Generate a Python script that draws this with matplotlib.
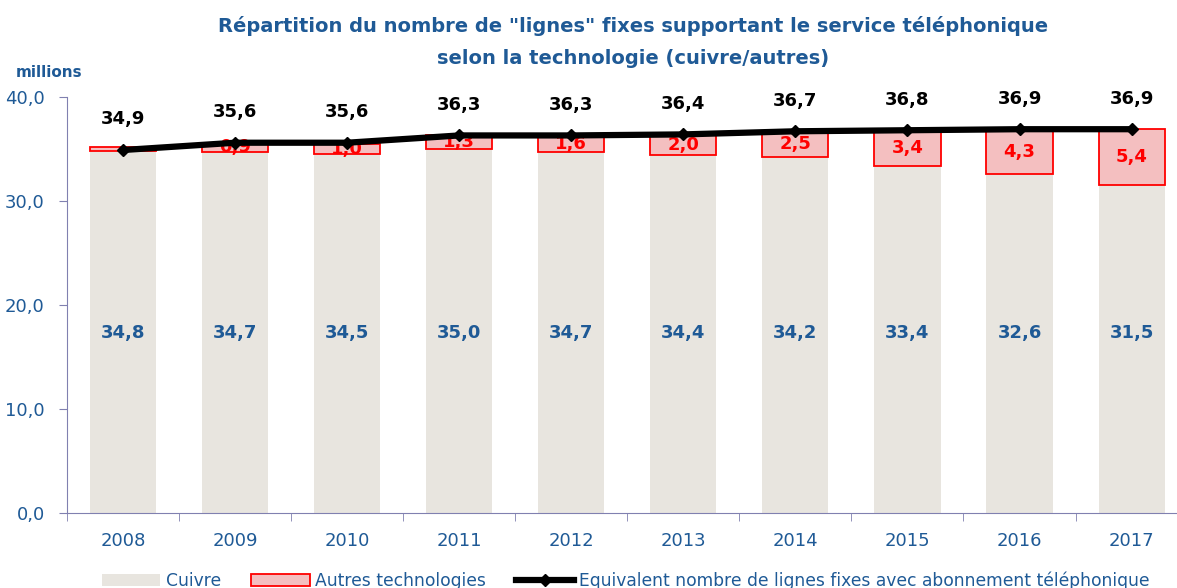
import numpy as np
import matplotlib.pyplot as plt

annees = ['2008', '2009', '2010', '2011', '2012', '2013', '2014', '2015', '2016', '2017']
cuivre = [34.8, 34.7, 34.5, 35.0, 34.7, 34.4, 34.2, 33.4, 32.6, 31.5]
autres = [0.4, 0.9, 1.0, 1.3, 1.6, 2.0, 2.5, 3.4, 4.3, 5.4]
total = [34.9, 35.6, 35.6, 36.3, 36.3, 36.4, 36.7, 36.8, 36.9, 36.9]

bleu = '#1F5A96'

def fr(v):
    return f'{v:.1f}'.replace('.', ',')

fig = plt.figure(figsize=(11.77, 5.88), dpi=100)
ax = fig.add_axes([0.057, 0.1276, 0.952, 0.7075])

x = np.arange(len(annees))
w = 0.59
b1 = ax.bar(x, cuivre, w, color='#E8E5DF', label='Cuivre', zorder=2)
b2 = ax.bar(x, autres, w, bottom=cuivre, color='#F4BFC0', edgecolor='#FF0000',
            linewidth=1.3, label='Autres technologies', zorder=2)
l1, = ax.plot(x, total, color='black', lw=4.5, marker='D', ms=6, zorder=4,
              label='Equivalent nombre de lignes fixes avec abonnement téléphonique')

for i in range(len(annees)):
    ax.text(x[i], 17.3, fr(cuivre[i]), ha='center', va='center', color=bleu,
            fontsize=13, fontweight='bold')
    if i > 0:
        ax.text(x[i], cuivre[i] + autres[i] / 2, fr(autres[i]), ha='center',
                va='center', color='#FF0000', fontsize=13, fontweight='bold', zorder=3)
    ax.annotate(fr(total[i]), (x[i], total[i]), xytext=(0, 22), textcoords='offset points',
                ha='center', va='center', color='black', fontsize=13, fontweight='bold')

ax.set_xlim(-0.5, len(annees) - 0.5)
ax.set_ylim(0, 40)
ax.set_yticks([0, 10, 20, 30, 40])
ax.set_yticklabels([fr(v) for v in [0, 10, 20, 30, 40]])
ax.set_xticks(x)
ax.set_xticklabels(annees)
ax.set_xticks(np.arange(-0.5, len(annees)), minor=True)
ax.tick_params(axis='x', which='major', length=0, pad=14, labelsize=13, labelcolor=bleu)
ax.tick_params(axis='x', which='minor', length=6, color='#8080B0')
ax.tick_params(axis='y', length=6, color='#8080B0', labelsize=13, labelcolor=bleu, pad=10)
for s in ['top', 'right']:
    ax.spines[s].set_visible(False)
ax.spines['left'].set_color('#8080B0')
ax.spines['bottom'].set_color('#8080B0')

fig.text(0.538, 0.955, 'Répartition du nombre de "lignes" fixes supportant le service téléphonique',
         ha='center', va='center', color=bleu, fontsize=14, fontweight='bold')
fig.text(0.538, 0.900, 'selon la technologie (cuivre/autres)',
         ha='center', va='center', color=bleu, fontsize=14, fontweight='bold')
fig.text(0.013, 0.877, 'millions', color=bleu, fontsize=11, fontweight='bold', va='center')

leg = fig.legend(handles=[b1, b2, l1], loc='center', bbox_to_anchor=(0.532, 0.012), ncol=3,
                 frameon=False, fontsize=12.3, handlelength=3.4, columnspacing=1.8,
                 handletextpad=0.3)
for t in leg.get_texts():
    t.set_color(bleu)

fig.savefig('out.png', dpi=100)
